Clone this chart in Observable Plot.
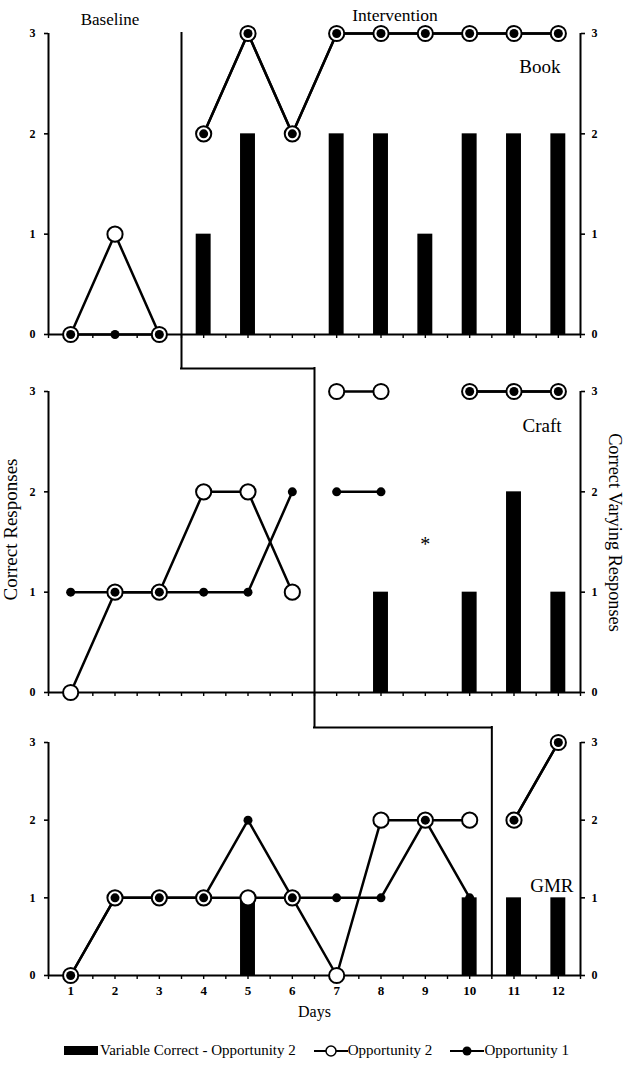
<!DOCTYPE html>
<html>
<head>
<meta charset="utf-8">
<script src="https://cdn.jsdelivr.net/npm/d3@7"></script>
<script src="https://cdn.jsdelivr.net/npm/@observablehq/plot@0.6"></script>
<style>
  body { margin: 0; background: #fff; }
  #chart { position: relative; width: 625px; height: 1067px; font-family: "Liberation Serif", "Times New Roman", serif; color: #000; }
  .panel { position: absolute; left: 0; }
  #legend { position: absolute; left: 64px; top: 1042px; display: flex; align-items: center; font-size: 15px; white-space: nowrap; font-family: "Liberation Serif", "Times New Roman", serif; }
  #legend .item { display: flex; align-items: center; }
</style>
</head>
<body>
<div id="chart"></div>
<script>
// ---- data ----
const days = [1, 2, 3, 4, 5, 6, 7, 8, 9, 10, 11, 12];
const yTicks = [0, 1, 2, 3];
const halfDayTicks = [0.5, 1, 1.5, 2, 2.5, 3, 3.5, 4, 4.5, 5, 5.5, 6, 6.5, 7, 7.5, 8, 8.5, 9, 9.5, 10, 10.5, 11, 11.5, 12, 12.5];
const phaseNames = ["Baseline", "Intervention"];
// phase change lines (between last baseline day and first intervention day) for Book, Craft, GMR
const phaseChange = [3.5, 6.5, 10.5];

const bookOpp2 = [0, 1, 0, 2, 3, 2, 3, 3, 3, 3, 3, 3];
const bookOpp1 = [0, 0, 0, 2, 3, 2, 3, 3, 3, 3, 3, 3];
const bookVar  = [null, null, null, 1, 2, 0, 2, 2, 1, 2, 2, 2];

const craftOpp2 = [0, 1, 1, 2, 2, 1, 3, 3, null, 3, 3, 3];
const craftOpp1 = [1, 1, 1, 1, 1, 2, 2, 2, null, 3, 3, 3];
const craftVar  = [null, null, null, null, null, null, 0, 1, null, 1, 2, 1];
const craftNotes = [{day: 9, value: 1.47, text: "*"}];

const gmrOpp2 = [0, 1, 1, 1, 1, 1, 0, 2, 2, 2, 2, 3];
const gmrOpp1 = [0, 1, 1, 1, 2, 1, 1, 1, 2, 1, 2, 3];
const gmrVar  = [0, 0, 0, 0, 1, 0, 0, 0, 0, 1, 1, 1];

const legendLabels = ["Variable Correct - Opportunity 2", "Opportunity 2", "Opportunity 1"];

// ---- helpers ----
const FONT = "Liberation Serif, Times New Roman, serif";
function rows(opp2, opp1, vari, change) {
  return days.map((day, i) => ({
    day, opp2: opp2[i], opp1: opp1[i], vari: vari[i],
    phase: day < change ? phaseNames[0] : phaseNames[1]
  }));
}

function panel({data, top, height, marginTop, marginBottom, extra}) {
  const svg = Plot.plot({
    width: 625, height, marginLeft: 48, marginRight: 45, marginTop, marginBottom,
    x: {domain: [0.5, 12.5], label: null},
    y: {domain: [0, 3], label: null},
    style: {fontFamily: FONT, background: "transparent", overflow: "visible", color: "black"},
    marks: [
      Plot.rect(data.filter(d => d.vari > 0), {x1: d => d.day - 0.5, x2: d => d.day + 0.5, y1: 0, y2: "vari", insetLeft: 14.7, insetRight: 14.7, fill: "black"}),
      Plot.ruleX([0.5, 12.5], {stroke: "black", strokeWidth: 2}),
      Plot.ruleY([0], {stroke: "black", strokeWidth: 2}),
      Plot.axisY(yTicks, {anchor: "left", tickSize: 4, tickPadding: 9, tickFormat: d => String(d), fontSize: 12, fontWeight: "bold", fontFamily: FONT, strokeWidth: 1.6, label: null}),
      Plot.axisY(yTicks, {anchor: "right", tickSize: 4, tickPadding: 7, tickFormat: d => String(d), fontSize: 12, fontWeight: "bold", fontFamily: FONT, strokeWidth: 1.6, label: null}),
      Plot.axisX(halfDayTicks, {anchor: "bottom", tickSize: 4, tickFormat: () => "", strokeWidth: 1.4, label: null}),
      ...extra.phase,
      Plot.line(data, {x: "day", y: "opp2", z: "phase", stroke: "black", strokeWidth: 2.5}),
      Plot.line(data, {x: "day", y: "opp1", z: "phase", stroke: "black", strokeWidth: 2.5}),
      Plot.dot(data.filter(d => d.opp2 != null), {x: "day", y: "opp2", r: 7.6, fill: "white", stroke: "black", strokeWidth: 2}),
      Plot.dot(data.filter(d => d.opp1 != null), {x: "day", y: "opp1", r: 4.5, fill: "black"}),
      ...extra.text
    ]
  });
  svg.classList.add("panel");
  svg.style.top = top + "px";
  svg.style.position = "absolute";
  return svg;
}

const rule = {stroke: "black", strokeWidth: 2, strokeLinecap: "square"};

const p1 = panel({
  data: rows(bookOpp2, bookOpp1, bookVar, phaseChange[0]),
  top: 0, height: 375, marginTop: 33, marginBottom: 41,
  extra: {
    phase: [
      Plot.ruleX([phaseChange[0]], {...rule, y1: 3, y2: 0, insetBottom: -34}),
      Plot.ruleY([0], {...rule, x1: phaseChange[0], x2: phaseChange[1], dy: 34})
    ],
    text: [
      Plot.text([phaseNames[0]], {x: (0.5 + phaseChange[0]) / 2, frameAnchor: "top", textAnchor: "middle", dy: -21, dx: -5, fontSize: 17, fill: "black"}),
      Plot.text([phaseNames[1]], {x: (phaseChange[0] + 12.5) / 2, frameAnchor: "top", textAnchor: "middle", dy: -25, dx: 14, fontSize: 17.5, fill: "black"}),
      Plot.text(["Book"], {frameAnchor: "top-right", textAnchor: "end", dx: -20, dy: 26, fontSize: 19, fill: "black"})
    ]
  }
});

const p2 = panel({
  data: rows(craftOpp2, craftOpp1, craftVar, phaseChange[1]),
  top: 375, height: 360, marginTop: 16, marginBottom: 43,
  extra: {
    phase: [
      Plot.ruleX([phaseChange[1]], {...rule, y1: 3, y2: 0, insetTop: -23, insetBottom: -35}),
      Plot.ruleY([0], {...rule, x1: phaseChange[1], x2: phaseChange[2], dy: 35})
    ],
    text: [
      Plot.text(craftNotes, {x: "day", y: "value", text: "text", fontSize: 20, fill: "black"}),
      Plot.text(["Craft"], {frameAnchor: "top-right", textAnchor: "end", dx: -19, dy: 27, fontSize: 19, fill: "black"}),
      Plot.text(["Correct Responses"], {frameAnchor: "left", textAnchor: "middle", rotate: -90, dx: -38, dy: -12.5, fontSize: 19, fill: "black"}),
      Plot.text(["Correct Varying Responses"], {frameAnchor: "right", textAnchor: "middle", rotate: 90, dx: 34, dy: -9.5, fontSize: 18.3, fill: "black"})
    ]
  }
});

const p3 = panel({
  data: rows(gmrOpp2, gmrOpp1, gmrVar, phaseChange[2]),
  top: 735, height: 300, marginTop: 7, marginBottom: 60,
  extra: {
    phase: [
      Plot.ruleX([phaseChange[2]], {...rule, y1: 3, y2: 0, insetTop: -15})
    ],
    text: [
      Plot.text(["GMR"], {frameAnchor: "top-right", textAnchor: "end", dx: -7, dy: 136, fontSize: 19, fill: "black"}),
      Plot.text(days, {x: d => d, text: d => String(d), frameAnchor: "bottom", textAnchor: "middle", dy: 19, fontSize: 13, fontWeight: "bold", fill: "black"}),
      Plot.text(["Days"], {frameAnchor: "bottom", textAnchor: "middle", dy: 41, fontSize: 16, fill: "black"})
    ]
  }
});

const chart = document.getElementById("chart");
chart.append(p1, p2, p3);

// ---- legend ----
const legend = document.createElement("div");
legend.id = "legend";
const sw = 34;
legend.innerHTML = `
  <div class="item"><span style="display:inline-block;width:${sw}px;height:9px;background:#000;margin-right:2px"></span><span>${legendLabels[0]}</span></div>
  <div class="item" style="margin-left:18px"><svg width="${sw}" height="14"><line x1="0" x2="${sw}" y1="7" y2="7" stroke="#000" stroke-width="2"/><circle cx="${sw/2}" cy="7" r="5" fill="#fff" stroke="#000" stroke-width="1.5"/></svg><span>${legendLabels[1]}</span></div>
  <div class="item" style="margin-left:18px"><svg width="${sw}" height="14"><line x1="0" x2="${sw}" y1="7" y2="7" stroke="#000" stroke-width="2"/><circle cx="${sw/2}" cy="7" r="4.5" fill="#000"/></svg><span>${legendLabels[2]}</span></div>
`;
chart.append(legend);
</script>
</body>
</html>
